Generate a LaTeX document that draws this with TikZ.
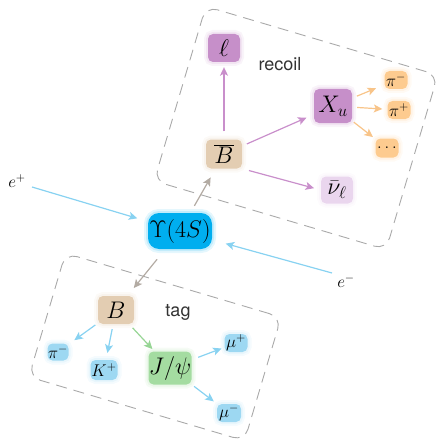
\RequirePackage{fix-cm}
\documentclass[tikz,border=0pt]{standalone}
\usepackage{fontspec}
\newfontfamily\hvfont{TeX Gyre Heros}
\usetikzlibrary{arrows.meta}
\definecolor{cupsb}{HTML}{00AEEF}
\definecolor{clblue}{HTML}{9DD8F2}
\definecolor{carrblue}{HTML}{88D2F1}
\definecolor{ctan}{HTML}{E3CDB2}
\definecolor{cpurple}{HTML}{C68FC9}
\definecolor{clpurple}{HTML}{EAD6EE}
\definecolor{carrpurple}{HTML}{C98FCB}
\definecolor{corange}{HTML}{FDCB8F}
\definecolor{carrorange}{HTML}{F8C489}
\definecolor{cgreen}{HTML}{A4DCA1}
\definecolor{carrgreen}{HTML}{97D595}
\definecolor{cgrayarr}{HTML}{B3ABA3}
\definecolor{cdash}{HTML}{A9A9A9}
\newcommand\fbig{\fontsize{24}{27}\selectfont}
\newcommand\fsmall{\fontsize{17}{20}\selectfont}
\begin{document}
\begin{tikzpicture}[x=1pt,y=-1pt,
  glow/.style={preaction={draw=#1,draw opacity=0.10,line width=8pt},
               preaction={draw=#1,draw opacity=0.15,line width=4pt}},
  box/.style={rectangle,rounded corners=5pt,fill=#1,inner sep=0pt,glow=#1},
  bigbox/.style={box=#1,font=\fbig},
  smallbox/.style={box=#1,font=\fsmall,minimum width=23pt,minimum height=18pt},
  arr/.style={draw=#1,line width=1.2pt,-{Stealth[length=8.5pt,width=8pt,inset=2pt]},shorten <=5pt,shorten >=5pt},
  dashbox/.style={draw=cdash,line width=0.9pt,dash pattern=on 11pt off 7pt,rounded corners=12pt,rotate=-16.5,inner sep=0pt},
  lbl/.style={font=\fontsize{18}{20}\selectfont\hvfont,text=black!80},
  elbl/.style={font=\fsmall,inner sep=0pt}
]
\useasboundingbox (0,0) rectangle (437,441);
% dashed frames
\node[dashbox,minimum width=242pt,minimum height=182pt] (recoilbox) at (296,128) {};
\node[dashbox,minimum width=225pt,minimum height=129pt] (tagbox) at (155,347) {};
% recoil side
\node[bigbox=cpurple,minimum width=32pt,minimum height=28pt] (ell) at (224,48) {$\ell$};
\node[bigbox=ctan,minimum width=36pt,minimum height=29pt] (Bbar) at (224,154) {$\overline{B}$};
\node[bigbox=cpurple,minimum width=38pt,minimum height=34pt] (Xu) at (333,106) {$X_u$};
\node[bigbox=clpurple,minimum width=32pt,minimum height=27pt] (nu) at (337,190) {$\bar{\nu}_\ell$};
\node[smallbox=corange] (pim) at (396,80) {$\pi^-$};
\node[smallbox=corange] (pip) at (399,110) {$\pi^+$};
\node[smallbox=corange,minimum height=19pt] (dots) at (387,148) {$\dots$};
\node[lbl] (recoil) at (280,64) {recoil};
% centre
\node[bigbox=cupsb,rounded corners=11pt,minimum width=64pt,minimum height=36pt] (ups) at (180,231) {$\Upsilon(4S)$};
\node[elbl] (eplus) at (17,181) {$e^+$};
\node[elbl] (eminus) at (346,281) {$e^-$};
\coordinate (epstart) at (32,187);
\coordinate (emstart) at (332,273);
% tag side
\node[bigbox=ctan,minimum width=36pt,minimum height=28pt] (B) at (116,310) {$B$};
\node[bigbox=cgreen,minimum width=43pt,minimum height=33pt] (jpsi) at (170,368) {$J/\psi$};
\node[smallbox=clblue,minimum width=21pt,minimum height=17pt] (pimt) at (58,352) {$\pi^-$};
\node[smallbox=clblue,minimum width=27pt,minimum height=20pt] (Kp) at (104,370) {$K^+$};
\node[smallbox=clblue] (mup) at (236,343) {$\mu^+$};
\node[smallbox=clblue,minimum width=24pt] (mum) at (229,413) {$\mu^-$};
\node[lbl] (tag) at (178,312) {tag};
% arrows
\draw[arr=carrblue,shorten <=0pt,shorten >=11pt] (epstart) -- (ups);
\draw[arr=carrblue,shorten <=0pt,shorten >=14pt] (emstart) -- (ups);
\draw[arr=cgrayarr,shorten <=8pt,shorten >=10pt] (ups) -- (Bbar);
\draw[arr=cgrayarr,shorten <=13pt,shorten >=10pt] (ups) -- (B);
\draw[arr=carrpurple,shorten <=8pt] (Bbar) -- (ell);
\draw[arr=carrpurple,shorten >=8pt] (Bbar) -- (Xu);
\draw[arr=carrpurple,shorten <=7pt,shorten >=7pt] (Bbar.south east) -- (nu.west);
\draw[arr=carrorange,shorten >=9pt] (Xu) -- (pim);
\draw[arr=carrorange] (Xu) -- (pip);
\draw[arr=carrorange,shorten <=2pt,shorten >=3pt] (Xu) -- (dots);
\draw[arr=carrblue,shorten <=3pt,shorten >=7pt] (B) -- (pimt);
\draw[arr=carrblue,shorten >=7pt] (B) -- (Kp);
\draw[arr=carrgreen,shorten >=3pt] (B) -- (jpsi);
\draw[arr=carrblue,shorten <=7pt,shorten >=3pt] (jpsi) -- (mup);
\draw[arr=carrblue,shorten <=3pt,shorten >=4pt] (jpsi) -- (mum);
\end{tikzpicture}
\end{document}
